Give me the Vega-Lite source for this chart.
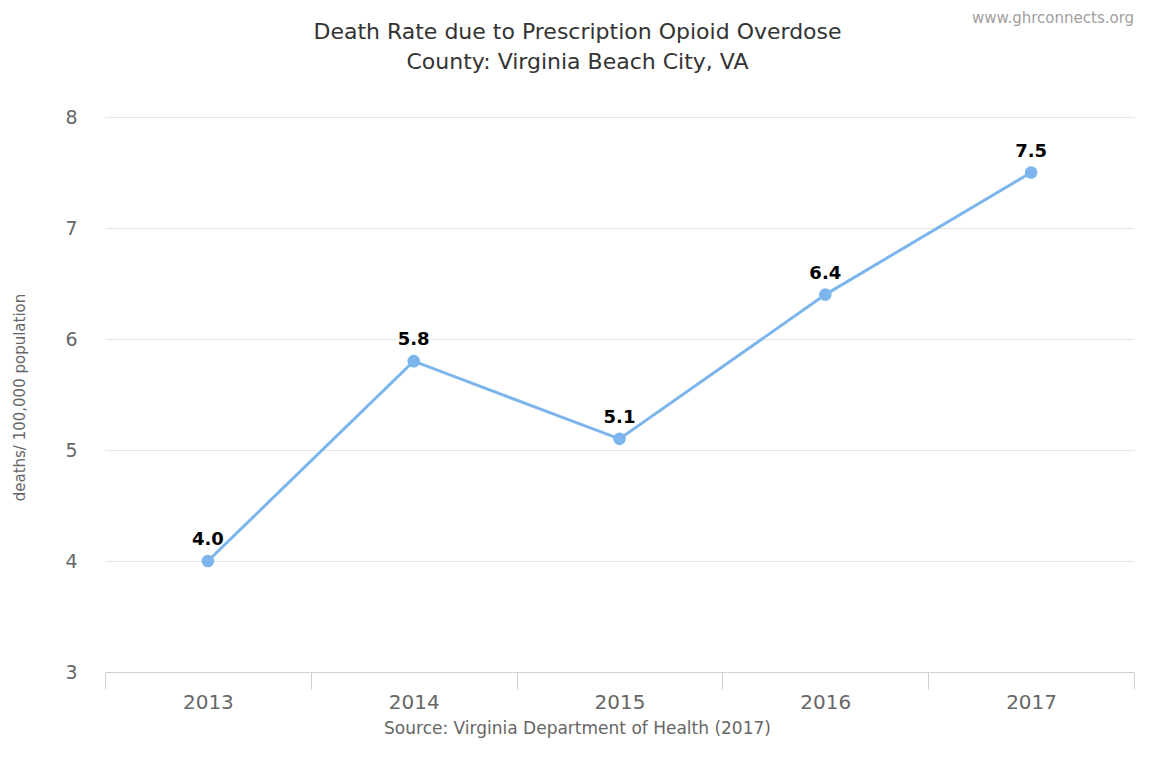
{
  "$schema": "https://vega.github.io/schema/vega-lite/v6.json",
  "width": 1029,
  "height": 555,
  "autosize": "none",
  "padding": {"left": 105, "top": 117, "right": 19, "bottom": 99},
  "background": "white",
  "config": {
    "font": "DejaVu Sans",
    "view": {"stroke": null}
  },
  "title": {
    "text": ["Death Rate due to Prescription Opioid Overdose", "County: Virginia Beach City, VA"],
    "fontSize": 22,
    "fontWeight": "normal",
    "color": "#333333",
    "lineHeight": 30,
    "offset": 0,
    "anchor": "middle",
    "frame": "group",
    "dx": -42,
    "dy": 63
  },
  "data": {
    "values": [
      {"year": "2013", "rate": 4.0},
      {"year": "2014", "rate": 5.8},
      {"year": "2015", "rate": 5.1},
      {"year": "2016", "rate": 6.4},
      {"year": "2017", "rate": 7.5}
    ]
  },
  "encoding": {
    "x": {
      "field": "year",
      "type": "ordinal",
      "bandPosition": 0.5,
      "scale": {"type": "band", "paddingInner": 0, "paddingOuter": 0},
      "axis": {
        "title": "Source: Virginia Department of Health (2017)",
        "titleFontSize": 17,
        "titleFontWeight": "normal",
        "titleColor": "#666666",
        "titleX": 472,
        "titleY": 56,
        "titleBaseline": "middle",
        "labelAngle": 0,
        "labelFontSize": 20,
        "labelColor": "#666666",
        "labelPadding": 3,
        "tickBand": "extent",
        "tickSize": 17,
        "tickColor": "#d0d0d0",
        "domainColor": "#d0d0d0",
        "grid": false
      }
    },
    "y": {
      "field": "rate",
      "type": "quantitative",
      "scale": {"domain": [3, 8], "nice": false, "zero": false},
      "axis": {
        "values": [3, 4, 5, 6, 7, 8],
        "title": "deaths/ 100,000 population",
        "titleFontSize": 15,
        "titleFontWeight": "normal",
        "titleColor": "#666666",
        "titleX": -78,
        "titleY": 280,
        "titleAlign": "center",
        "labelFontSize": 19,
        "labelColor": "#666666",
        "labelPadding": 28,
        "domain": false,
        "ticks": false,
        "grid": true,
        "gridColor": "#e6e6e6"
      }
    }
  },
  "layer": [
    {
      "mark": {"type": "line", "color": "#7cb5ec", "strokeWidth": 3}
    },
    {
      "mark": {"type": "point", "filled": true, "opacity": 1, "color": "#7cb5ec", "size": 160}
    },
    {
      "mark": {"type": "text", "dy": -21, "fontSize": 18, "fontWeight": "bold", "color": "#000000"},
      "encoding": {"text": {"field": "rate", "type": "quantitative", "format": ".1f"}}
    },
    {
      "transform": [{"filter": "datum.year == '2017'"}],
      "mark": {"type": "text", "align": "right", "baseline": "middle", "dx": 103, "dy": -99, "fontSize": 15, "color": "#a0a0a0"},
      "encoding": {
        "y": {"datum": 8, "type": "quantitative"},
        "text": {"value": "www.ghrconnects.org"}
      }
    }
  ]
}
